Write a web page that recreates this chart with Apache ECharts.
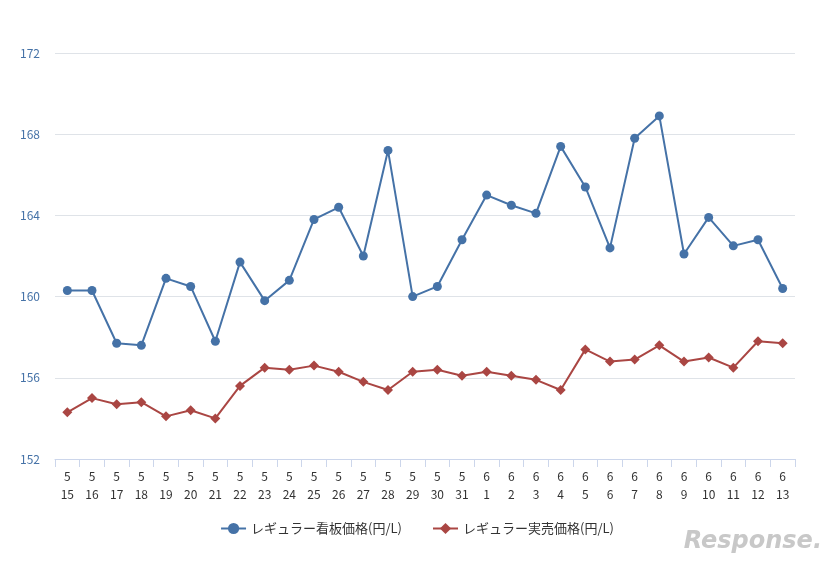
<!DOCTYPE html>
<html lang="ja">
<head>
<meta charset="UTF-8">
<script src="https://cdn.jsdelivr.net/npm/echarts@6/dist/echarts.min.js"></script>
<style>html,body{margin:0;padding:0;background:#fff}#c{width:834px;height:564px}</style>
</head>
<body>
<div id="c"></div>
<script>
var months = ['5','5','5','5','5','5','5','5','5','5','5','5','5','5','5','5','5','6','6','6','6','6','6','6','6','6','6','6','6','6'];
var days = ['15','16','17','18','19','20','21','22','23','24','25','26','27','28','29','30','31','1','2','3','4','5','6','7','8','9','10','11','12','13'];
var signPrice = [160.3,160.3,157.7,157.6,160.9,160.5,157.8,161.7,159.8,160.8,163.8,164.4,162.0,167.2,160.0,160.5,162.8,165.0,164.5,164.1,167.4,165.4,162.4,167.8,168.9,162.1,163.9,162.5,162.8,160.4];
var actualPrice = [154.3,155.0,154.7,154.8,154.1,154.4,154.0,155.6,156.5,156.4,156.6,156.3,155.8,155.4,156.3,156.4,156.1,156.3,156.1,155.9,155.4,157.4,156.8,156.9,157.6,156.8,157.0,156.5,157.8,157.7];
var categories = months.map(function (m, i) { return m + '\n' + days[i]; });

var chart = echarts.init(document.getElementById('c'));
chart.setOption({
    animation: false,
    textStyle: { fontFamily: 'Noto Sans CJK JP' },
    grid: { left: 55, right: 39, top: 53, bottom: 105 },
    legend: {
        bottom: 24,
        itemGap: 30,
        textStyle: { fontSize: 13, color: '#333' },
        data: ['レギュラー看板価格(円/L)', 'レギュラー実売価格(円/L)']
    },
    xAxis: {
        type: 'category',
        data: categories,
        axisLine: { lineStyle: { color: '#ccd6eb' } },
        axisTick: { show: true, lineStyle: { color: '#ccd6eb' }, length: 8 },
        axisLabel: { color: '#333', fontSize: 12, lineHeight: 18, interval: 0 }
    },
    yAxis: {
        type: 'value',
        min: 152, max: 172, interval: 4,
        axisLine: { show: false },
        axisLabel: { color: '#4572a7', fontSize: 12, align: 'left', margin: 35 },
        splitLine: { lineStyle: { color: '#dfe3e8' } }
    },
    series: [{
        name: 'レギュラー看板価格(円/L)',
        type: 'line',
        data: signPrice,
        symbol: 'circle',
        symbolSize: 9,
        color: '#4572a7',
        lineStyle: { width: 2 }
    }, {
        name: 'レギュラー実売価格(円/L)',
        type: 'line',
        data: actualPrice,
        symbol: 'diamond',
        symbolSize: 10,
        color: '#aa4643',
        lineStyle: { width: 2 }
    }],
    graphic: [{
        type: 'text', right: 12, bottom: 10,
        style: { text: 'Response.', fill: '#c8c8c8', fontSize: 24, fontStyle: 'italic', fontWeight: 'bold', fontFamily: 'DejaVu Sans' }
    }]
});
</script>
</body>
</html>
